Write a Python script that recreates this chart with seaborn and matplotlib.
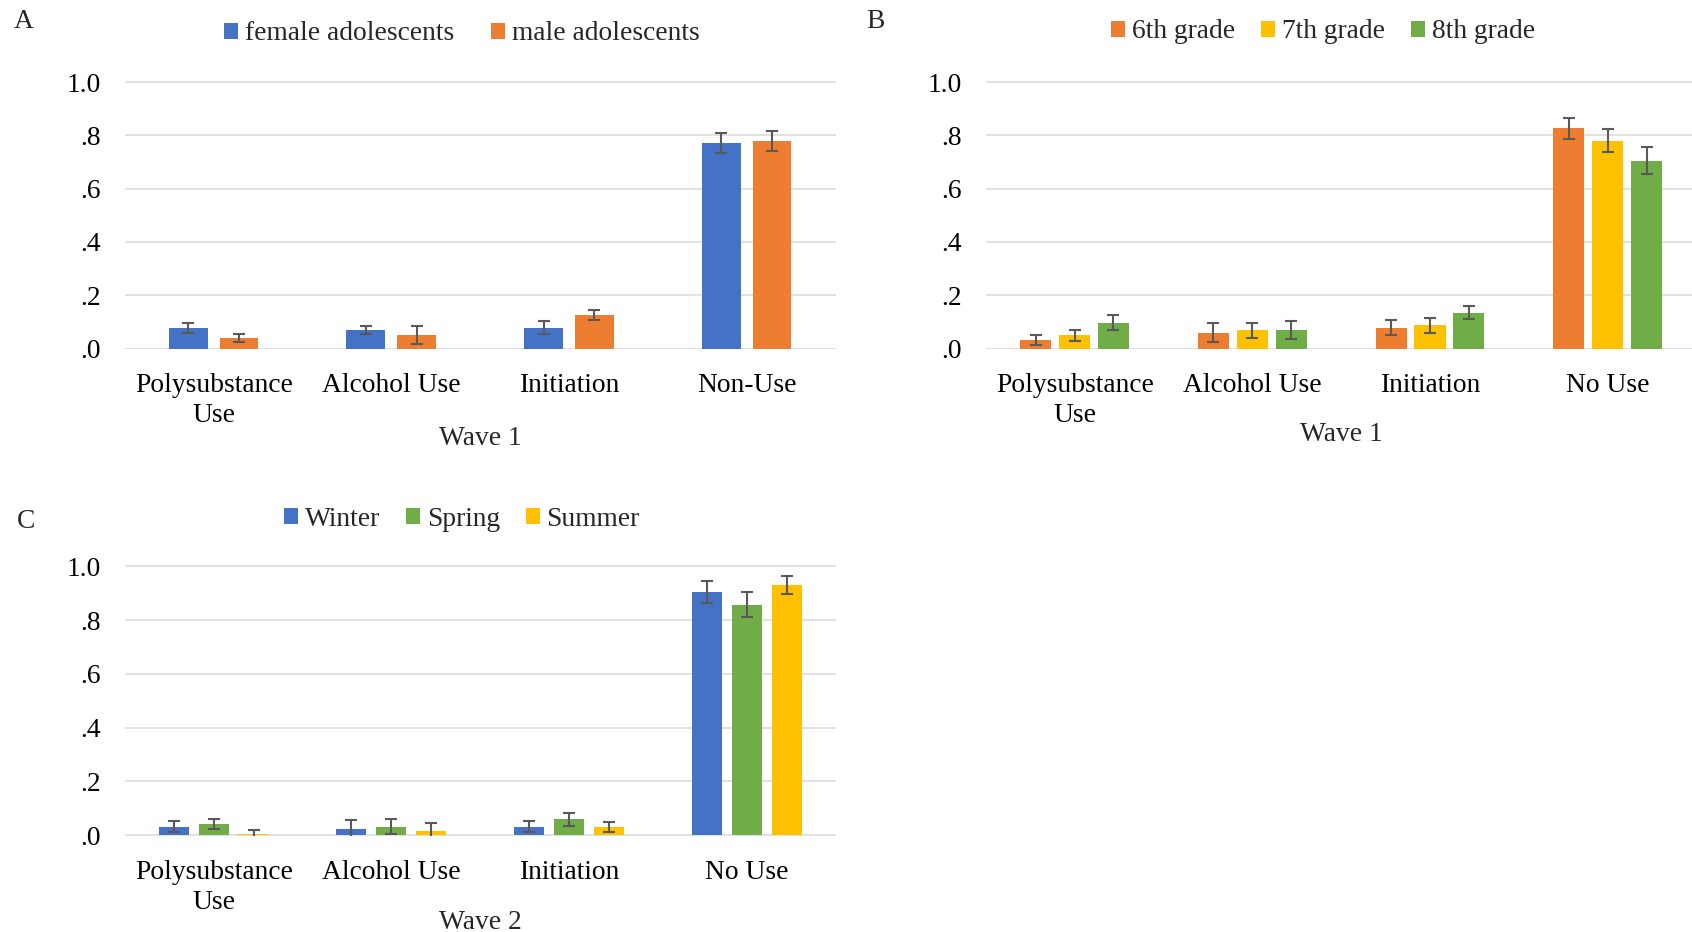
import matplotlib
matplotlib.use("Agg")
import matplotlib.pyplot as plt
from matplotlib.ticker import FuncFormatter
import seaborn as sns
import pandas as pd

# ---------------- data ----------------
cats_a = ["Polysubstance\nUse", "Alcohol Use", "Initiation", "Non-Use"]
groups_a = ["female adolescents", "male adolescents"]
vals_a = {
    "female adolescents": [0.078, 0.068, 0.078, 0.770],
    "male adolescents":   [0.040, 0.050, 0.125, 0.780],
}
errs_a = {
    "female adolescents": [0.019, 0.015, 0.024, 0.038],
    "male adolescents":   [0.014, 0.034, 0.019, 0.037],
}

cats_b = ["Polysubstance\nUse", "Alcohol Use", "Initiation", "No Use"]
groups_b = ["6th grade", "7th grade", "8th grade"]
vals_b = {
    "6th grade": [0.031, 0.060, 0.078, 0.826],
    "7th grade": [0.050, 0.068, 0.087, 0.780],
    "8th grade": [0.097, 0.068, 0.134, 0.705],
}
errs_b = {
    "6th grade": [0.019, 0.034, 0.029, 0.038],
    "7th grade": [0.020, 0.029, 0.029, 0.042],
    "8th grade": [0.029, 0.034, 0.025, 0.051],
}

cats_c = ["Polysubstance\nUse", "Alcohol Use", "Initiation", "No Use"]
groups_c = ["Winter", "Spring", "Summer"]
vals_c = {
    "Winter": [0.032, 0.022, 0.032, 0.905],
    "Spring": [0.043, 0.032, 0.059, 0.858],
    "Summer": [0.005, 0.014, 0.031, 0.932],
}
errs_c = {
    "Winter": [0.019, 0.034, 0.019, 0.042],
    "Spring": [0.019, 0.028, 0.023, 0.046],
    "Summer": [0.014, 0.033, 0.019, 0.033],
}

BLUE, ORANGE, YELLOW, GREEN = "#4472C4", "#ED7D31", "#FFC000", "#70AD47"
pal_a = [BLUE, ORANGE]
pal_b = [ORANGE, YELLOW, GREEN]
pal_c = [BLUE, GREEN, YELLOW]

# ---------------- style ----------------
sns.set_theme(style="white")
plt.rcParams["font.family"] = ["Liberation Serif", "DejaVu Serif"]
FS = 19.8
plt.rcParams["font.size"] = FS

W, H = 1692, 932
fig = plt.figure(figsize=(W / 100, H / 100), dpi=100)


def px_axes(left, right, top, bottom):
    return fig.add_axes([left / W, 1 - bottom / H, (right - left) / W, (bottom - top) / H])


def panel(ax, cats, groups, vals, errs, pal, width, gap, xlabel, xlabel_y,
          leg_xy, colspacing):
    rows = []
    for g in groups:
        for c, v, e in zip(cats, vals[g], errs[g]):
            rows.append({"cat": c, "grp": g, "val": v, "err": e})
    df = pd.DataFrame(rows)
    sns.barplot(data=df, x="cat", y="val", hue="grp", order=cats,
                hue_order=groups, palette=pal, width=width, gap=gap,
                errorbar=None, linewidth=0, saturation=1, ax=ax)
    # error bars at the bar centres
    for g, cont in zip(groups, ax.containers):
        xs = [b.get_x() + b.get_width() / 2 for b in cont]
        ax.errorbar(xs, vals[g], yerr=errs[g], fmt="none", ecolor="#595959",
                    elinewidth=1.5, capsize=4.2, capthick=1.5, zorder=5)
    ax.set_ylim(-0.003, 1.004)
    ax.set_xlim(-0.5, 3.5)
    ax.set_yticks([0, 0.2, 0.4, 0.6, 0.8, 1.0])
    ax.yaxis.set_major_formatter(FuncFormatter(
        lambda v, p: "1.0" if v >= 0.999 else ("%.1f" % v).lstrip("0")))
    ax.grid(axis="y", color="#D9D9D9", linewidth=1.1)
    ax.grid(axis="x", visible=False)
    ax.set_axisbelow(True)
    for s in ax.spines.values():
        s.set_visible(False)
    ax.tick_params(axis="both", length=0, labelsize=FS, colors="black")
    ax.tick_params(axis="y", pad=17)
    ax.tick_params(axis="x", pad=17)
    for t in ax.get_xticklabels():
        t.set_linespacing(1.28)
    ax.set_ylabel("")
    ax.set_xlabel(xlabel, fontsize=FS, va="center")
    ax.xaxis.set_label_coords(0.5, xlabel_y)
    sns.move_legend(ax, loc="center", bbox_to_anchor=(leg_xy[0] / W, 1 - leg_xy[1] / H),
                    bbox_transform=fig.transFigure, ncol=len(groups), frameon=False,
                    title=None, fontsize=FS, handlelength=0.5, handleheight=0.5,
                    handletextpad=0.25, columnspacing=colspacing, borderpad=0)


axA = px_axes(124.8, 835.5, 81, 349.3)
panel(axA, cats_a, groups_a, vals_a, errs_a, pal_a, 0.571, 0.233,
      "Wave 1", -0.331, (462, 34), 1.35)

axB = px_axes(985.8, 1696.5, 81, 349.3)
panel(axB, cats_b, groups_b, vals_b, errs_b, pal_b, 0.656, 0.196,
      "Wave 1", -0.318, (1323, 32), 0.95)

axC = px_axes(124.8, 835.5, 565.4, 836)
panel(axC, cats_c, groups_c, vals_c, errs_c, pal_c, 0.674, 0.245,
      "Wave 2", -0.318, (462, 519), 0.95)

for lab, x, y in [("A", 24, 22), ("B", 875, 22), ("C", 26, 522)]:
    fig.text(x / W, 1 - y / H, lab, ha="center", va="center", fontsize=FS)

fig.savefig("out.png", dpi=100)
